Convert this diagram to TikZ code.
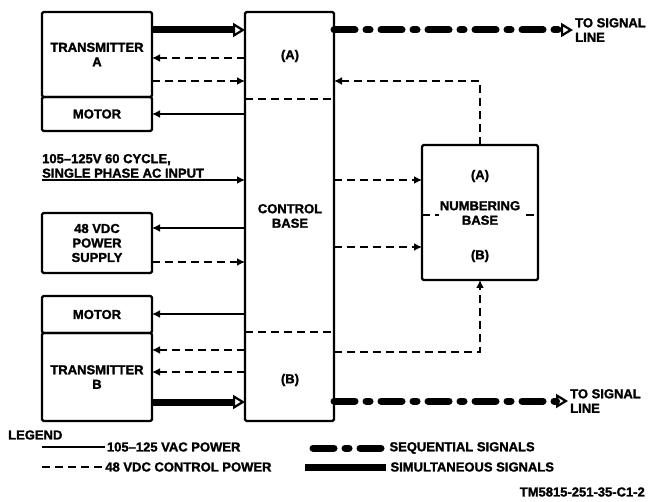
\documentclass[tikz,border=0pt]{standalone}
\usepackage{fontspec}
\setmainfont{Liberation Sans}[BoldFeatures={FakeBold=1.6}]
\usetikzlibrary{arrows.meta,positioning}
\begin{document}
\begin{tikzpicture}[x=1pt,y=-1pt,font=\fontsize{13}{14.5}\selectfont\bfseries,
  blk/.style={draw,line width=2.2pt,rounded corners=1.5pt,outer sep=0pt,inner sep=0pt,align=center,anchor=north west,minimum width=110pt},
  lbl/.style={inner sep=1pt,align=center},
  acpow/.style={line width=2pt},
  dcpow/.style={line width=2.7pt,dash pattern=on 8pt off 5pt},
  simul/.style={line width=7pt},
  seqsig/.style={line width=7pt,line cap=round,dash pattern=on 21pt off 11pt on 4pt off 11pt},
  tip/.style={-{Latex[length=8pt,width=8pt]}},
  bigtip/.style={-{Triangle[open,length=12pt,width=14pt,line width=2.2pt]}}]
\useasboundingbox (0,0) rectangle (650,502);
% blocks on the left
\node[blk,minimum height=85pt] (ta) at (42,12) {TRANSMITTER\\A};
\node[blk,minimum height=34pt] (tam) at (42,97) {MOTOR};
\node[blk,minimum height=60pt] (ps) at (42,213) {48 VDC\\POWER\\SUPPLY};
\node[blk,minimum height=37pt] (tbm) at (42,296) {MOTOR};
\node[blk,minimum height=88pt] (tb) at (42,333) {TRANSMITTER\\B};
% control base
\node[blk,minimum width=89pt,minimum height=409pt] (cb) at (245,12) {};
\draw[dcpow] (cb.west|-0,99) -- (cb.east|-0,99);
\draw[dcpow] (cb.west|-0,332) -- (cb.east|-0,332);
\node[lbl] (cba) at (290,56) {(A)};
\node[lbl] (cbt) at (290,216) {CONTROL\\BASE};
\node[lbl] (cbb) at (290,380) {(B)};
% numbering base
\node[blk,minimum width=116pt,minimum height=135pt] (nb) at (422,145) {};
\draw[dcpow] (nb.west|-0,215) -- (nb.east|-0,215);
\node[lbl] (nba) at (480,176) {(A)};
\node[lbl,fill=white] (nbt) at (480,213) {NUMBERING\\BASE};
\node[lbl] (nbb) at (480,256) {(B)};
% transmitter A links
\draw[simul,bigtip] (ta.east|-0,30) -- (cb.west|-0,30);
\draw[dcpow,tip] (cb.west|-0,58) -- (ta.east|-0,58);
\draw[dcpow,tip] (ta.east|-0,81) -- (cb.west|-0,81);
\draw[acpow,tip] (cb.west|-0,114) -- (tam.east|-0,114);
% ac input
\coordinate (acin) at (42,180);
\node[anchor=south west,align=left,inner sep=0pt] (aclbl) at (42,178) {105--125V 60 CYCLE,\\SINGLE PHASE AC INPUT};
\draw[acpow,tip] (acin) -- (cb.west|-0,180);
% power supply links
\draw[acpow,tip] (cb.west|-0,228) -- (ps.east|-0,228);
\draw[dcpow,tip] (ps.east|-0,262) -- (cb.west|-0,262);
% transmitter B links
\draw[acpow,tip] (cb.west|-0,314) -- (tbm.east|-0,314);
\draw[dcpow,tip] (cb.west|-0,350) -- (tb.east|-0,350);
\draw[dcpow,tip] (cb.west|-0,372) -- (tb.east|-0,372);
\draw[simul,bigtip] (tb.east|-0,402) -- (cb.west|-0,402);
% right side
\node[anchor=west,align=left,inner sep=2pt] (siga) at (573,30) {TO SIGNAL\\LINE};
\node[anchor=west,align=left,inner sep=2pt] (sigb) at (568,401) {TO SIGNAL\\LINE};
\draw[seqsig,bigtip] (cb.east|-0,30) -- (siga.west);
\draw[seqsig,bigtip] (cb.east|-0,401) -- (sigb.west);
\draw[dcpow,tip] (nb.north) |- (cb.east|-0,81);
\draw[dcpow,tip] (cb.east|-0,180) -- (nb.west|-0,180);
\draw[dcpow,tip] (cb.east|-0,247) -- (nb.west|-0,247);
\draw[dcpow,tip] (cb.east|-0,352) -| (nb.south);
% legend
\node[anchor=west,inner sep=0pt] (leg) at (8,435) {LEGEND};
\coordinate (l1a) at (42,447); \coordinate (l1b) at (105,447);
\coordinate (l2a) at (42,467); \coordinate (l2b) at (103,467);
\coordinate (l3a) at (313,448); \coordinate (l3b) at (385,448);
\coordinate (l4a) at (305,467); \coordinate (l4b) at (386,467);
\draw[acpow] (l1a) -- (l1b) node[right,inner sep=1pt] {105--125 VAC POWER};
\draw[dcpow] (l2a) -- (l2b) node[right,inner sep=1pt] {48 VDC CONTROL POWER};
\draw[seqsig] (l3a) -- (l3b) node[right,inner sep=1pt] {SEQUENTIAL SIGNALS};
\draw[simul] (l4a) -- (l4b) node[right,inner sep=1pt] {SIMULTANEOUS SIGNALS};
\node[anchor=east,inner sep=0pt] (tmno) at (645,492) {TM5815-251-35-C1-2};
\end{tikzpicture}
\end{document}
